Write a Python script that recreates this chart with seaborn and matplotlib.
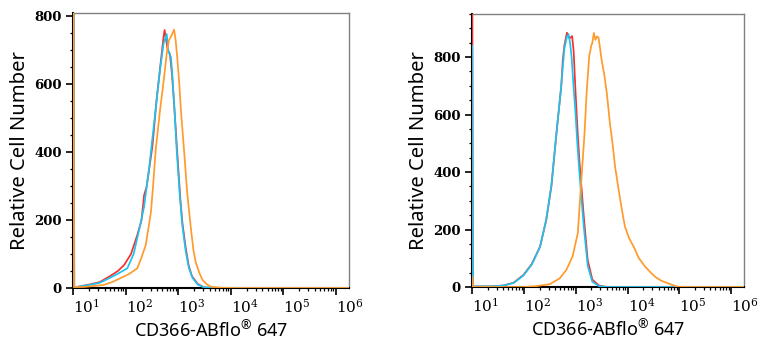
import numpy as np
import pandas as pd
import seaborn as sns
import matplotlib.pyplot as plt
import matplotlib.transforms as mtrans
from matplotlib.ticker import LogLocator, MultipleLocator, NullFormatter

# histogram traces: x as log10(intensity), y as cell count
left_red_log = [1.00, 1.02, 1.10, 1.30, 1.50, 1.70, 1.85, 1.97, 2.10, 2.22, 2.30, 2.35, 2.40, 2.51, 2.59, 2.67, 2.72,
                2.74, 2.77, 2.80, 2.84, 2.88, 2.93, 2.98, 3.04, 3.08, 3.14, 3.20, 3.26, 3.37, 3.49, 3.70, 6.30]
left_red_cnt = [1500, 2, 4, 10, 17, 35, 50, 68, 100, 156, 200, 274, 300, 420, 559, 671, 740,
                760, 730, 700, 690, 630, 520, 400, 260, 190, 120, 65, 35, 12, 2, 0, 0]
left_cyan_log = [1.00, 1.02, 1.10, 1.30, 1.50, 1.70, 1.85, 2.03, 2.15, 2.29, 2.35, 2.45, 2.55, 2.65, 2.72, 2.78,
                 2.81, 2.83, 2.86, 2.89, 2.93, 2.97, 3.03, 3.08, 3.14, 3.20, 3.27, 3.37, 3.49, 3.70, 6.30]
left_cyan_cnt = [1500, 2, 4, 9, 15, 30, 42, 58, 100, 195, 240, 360, 500, 640, 720, 748,
                 700, 690, 680, 621, 520, 406, 270, 180, 110, 60, 30, 10, 2, 0, 0]
left_orange_log = [1.00, 1.015, 1.20, 1.40, 1.58, 1.75, 1.90, 2.05, 2.22, 2.30, 2.38, 2.48, 2.52, 2.57, 2.65, 2.73,
                   2.78, 2.82, 2.86, 2.92, 2.95, 2.98, 3.02, 3.05, 3.11, 3.17, 3.24, 3.29, 3.33, 3.40, 3.46, 3.55,
                   3.62, 3.80, 4.00, 6.30]
left_orange_cnt = [1500, 3, 3, 6, 9, 18, 29, 40, 58, 90, 126, 224, 300, 406, 520, 621,
                   690, 729, 740, 761, 730, 680, 600, 523, 406, 280, 176, 110, 77, 45, 24, 10,
                   4, 1, 0, 0]

right_red_log = [1.00, 1.012, 1.35, 1.60, 1.80, 1.99, 2.15, 2.31, 2.43, 2.53, 2.63, 2.72, 2.75, 2.78, 2.83, 2.88,
                 2.93, 2.96, 2.99, 3.03, 3.07, 3.15, 3.23, 3.32, 3.45, 3.60, 6.30]
right_red_cnt = [1200, 2, 2, 5, 15, 42, 80, 140, 233, 351, 540, 699, 790, 840, 885, 865,
                 873, 820, 700, 560, 441, 257, 95, 26, 5, 0, 0]
right_cyan_log = [1.00, 1.012, 1.35, 1.60, 1.80, 1.99, 2.15, 2.31, 2.43, 2.53, 2.63, 2.72, 2.78, 2.83, 2.86, 2.89,
                  2.92, 2.96, 2.99, 3.03, 3.07, 3.15, 3.23, 3.32, 3.45, 3.60, 6.30]
right_cyan_cnt = [840, 2, 2, 5, 14, 40, 78, 140, 235, 355, 540, 700, 830, 870, 880, 850,
                  800, 690, 620, 500, 400, 220, 75, 18, 3, 0, 0]
right_orange_log = [1.00, 1.015, 2.00, 2.24, 2.50, 2.69, 2.82, 2.94, 3.04, 3.10, 3.17, 3.21, 3.26, 3.30, 3.32, 3.35,
                    3.38, 3.41, 3.44, 3.47, 3.50, 3.55, 3.60, 3.66, 3.71, 3.76, 3.81, 3.85, 3.90, 3.95, 4.03, 4.12,
                    4.22, 4.34, 4.45, 4.53, 4.65, 4.78, 4.90, 4.97, 5.10, 6.30]
right_orange_cnt = [35, 0, 0, 3, 10, 30, 60, 107, 188, 350, 535, 675, 803, 840, 849, 884,
                    860, 872, 868, 830, 790, 740, 675, 570, 500, 418, 360, 314, 260, 210, 170, 140,
                    100, 71, 50, 36, 22, 13, 5, 1, 0, 0]

samples = ["red", "cyan", "orange"]
colors = {"red": "#f5302f", "cyan": "#1cc3ee", "orange": "#ff9a2c"}
decades = [1, 2, 3, 4, 5, 6]
y_ticks = [0, 200, 400, 600, 800]


def frame(traces):
    parts = []
    for name, lg, cnt in traces:
        parts.append(pd.DataFrame({"x": 10 ** np.array(lg), "count": cnt, "sample": name}))
    return pd.concat(parts, ignore_index=True)


left_df = frame([("red", left_red_log, left_red_cnt), ("cyan", left_cyan_log, left_cyan_cnt),
                 ("orange", left_orange_log, left_orange_cnt)])
right_df = frame([("red", right_red_log, right_red_cnt), ("cyan", right_cyan_log, right_cyan_cnt),
                  ("orange", right_orange_log, right_orange_cnt)])

sns.set_style("ticks")
plt.rcParams["font.family"] = ["Noto Sans", "DejaVu Sans"]
plt.rcParams["mathtext.fontset"] = "dejavuserif"
plt.rcParams["text.color"] = "black"
plt.rcParams["axes.labelcolor"] = "black"

fig = plt.figure(figsize=(7.6, 3.5), dpi=100)
ax1 = fig.add_axes([73 / 760, 62 / 350, 276 / 760, 275 / 350])
ax2 = fig.add_axes([472 / 760, 63 / 350, 272 / 760, 273 / 350])

for ax, df, ytop in [(ax1, left_df, 810), (ax2, right_df, 950)]:
    sns.lineplot(data=df, x="x", y="count", hue="sample", hue_order=samples, palette=colors,
                 estimator=None, sort=False, legend=False, lw=1.25, ax=ax)
    for ln in ax.lines:
        ln.set_zorder(3)
    ax.set_xscale("log")
    ax.set_xlim(10 ** 0.996, 10 ** 6.25)
    ax.set_ylim(0, ytop)

    ax.set_xticks([10 ** d for d in decades])
    ax.set_xticklabels([r"$10^{%d}$" % d for d in decades])
    ax.xaxis.set_minor_locator(LogLocator(base=10, subs=np.arange(2, 10), numticks=30))
    ax.xaxis.set_minor_formatter(NullFormatter())
    for d, lab in zip(decades, ax.get_xticklabels()):
        shift = {1: 5, 6: -12}.get(d, -2)
        lab.set_horizontalalignment("left")
        lab.set_fontsize(11)
        lab.set_transform(lab.get_transform() + mtrans.ScaledTranslation(shift / 100, 0, fig.dpi_scale_trans))

    ax.set_yticks(y_ticks)
    ax.yaxis.set_minor_locator(MultipleLocator(50))
    for lab in ax.get_yticklabels():
        lab.set_fontfamily("DejaVu Serif")
        lab.set_fontweight("bold")
        lab.set_fontsize(9.5)

    ax.tick_params(axis="both", which="major", direction="out", length=5, width=1.2,
                   colors="black", pad=3)
    ax.tick_params(axis="both", which="minor", direction="out", length=2.5, width=0.9, colors="black")
    ax.tick_params(axis="x", which="major", pad=3)

    for side in ["left", "bottom"]:
        ax.spines[side].set_color("black")
        ax.spines[side].set_linewidth(1.5)
    for side in ["top", "right"]:
        ax.spines[side].set_visible(True)
        ax.spines[side].set_color("#808080")
        ax.spines[side].set_linewidth(1.0)

    ax.set_xlabel(r"CD366-ABflo$^{\mathregular{®}}$ 647", fontsize=13, labelpad=3)
    ax.set_ylabel("Relative Cell Number", fontsize=14.5, labelpad=3)

fig.savefig("out.png", dpi=100)
